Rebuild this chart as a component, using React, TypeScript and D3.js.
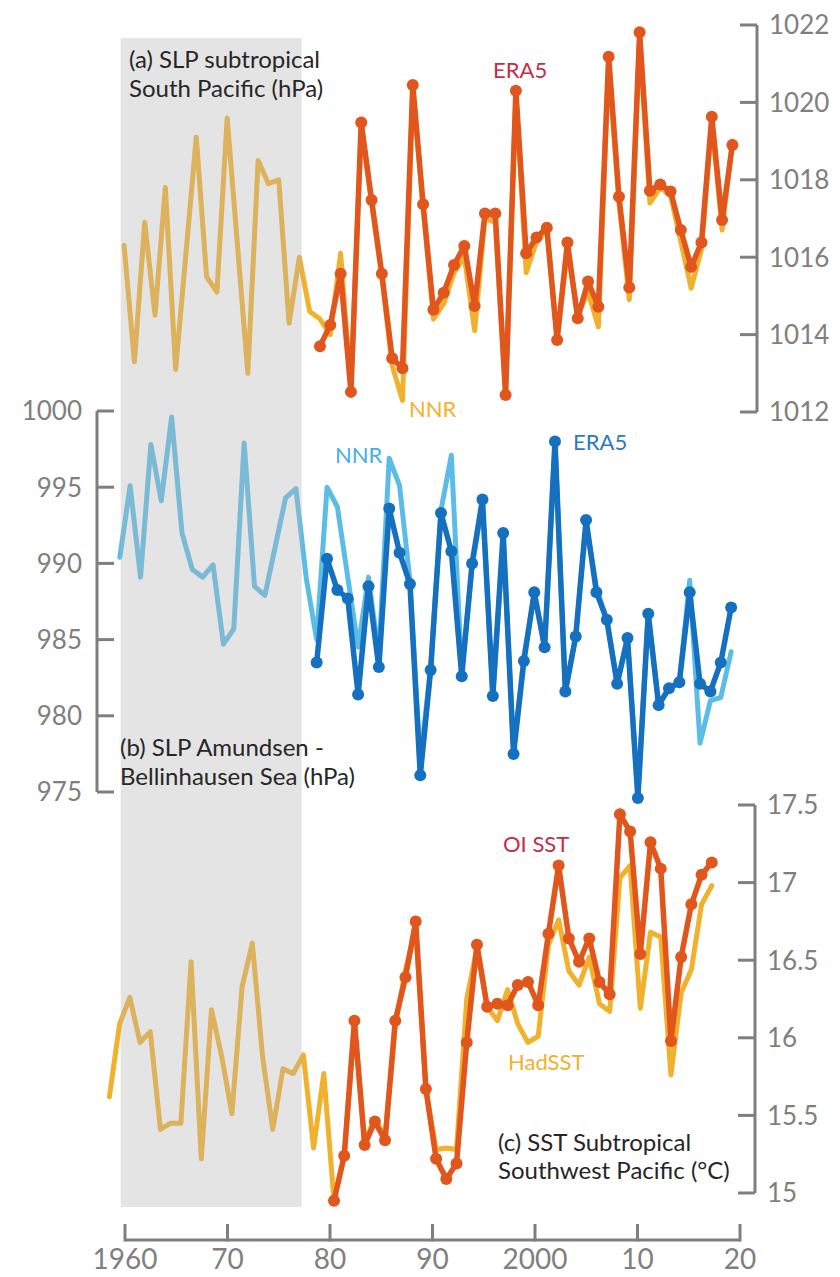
import React from "react";
import * as d3 from "d3";

// ---------- data ----------
// (a) SLP subtropical South Pacific (hPa)
const SLP_SP_NNR_START = 1960;
const SLP_SP_NNR = [
  1016.3, 1013.3, 1016.9, 1014.5, 1017.8, 1013.1, 1016.1, 1019.1, 1015.5, 1015.1,
  1019.6, 1016.3, 1013.0, 1018.5, 1017.9, 1018.0, 1014.3, 1016.0, 1014.6, 1014.4,
  1014.0, 1016.1, 1012.6, 1019.4, 1017.4, 1015.5, 1013.2, 1012.3, 1020.4, 1017.3,
  1014.4, 1014.8, 1015.6, 1016.0, 1014.1, 1017.0, 1016.9, 1012.5, 1020.2, 1015.6,
  1016.4, 1016.7, 1013.9, 1016.2, 1014.5, 1015.1, 1014.2, 1021.0, 1017.4, 1014.9,
  1021.6, 1017.4, 1017.8, 1017.6, 1016.4, 1015.2, 1016.2, 1019.5, 1016.7, 1019.0,
];
const SLP_SP_ERA5_START = 1979;
const SLP_SP_ERA5 = [
  1013.7, 1014.25, 1015.57, 1012.52, 1019.48, 1017.48, 1015.57, 1013.39, 1013.13, 1020.45,
  1017.37, 1014.64, 1015.08, 1015.8, 1016.29, 1014.74, 1017.13, 1017.13, 1012.44, 1020.3,
  1016.1, 1016.51, 1016.76, 1013.86, 1016.38, 1014.42, 1015.37, 1014.72, 1021.18, 1017.56,
  1015.22, 1021.81, 1017.72, 1017.88, 1017.7, 1016.7, 1015.75, 1016.38, 1019.63, 1016.96,
  1018.9,
];

// (b) SLP Amundsen - Bellinhausen Sea (hPa)
const SLP_ABS_NNR_START = 1960;
const SLP_ABS_NNR = [
  990.4, 995.1, 989.1, 997.8, 994.1, 999.6, 992.0, 989.6, 989.1, 989.9,
  984.7, 985.7, 997.9, 988.5, 987.9, 991.1, 994.3, 994.9, 989.0, 985.0,
  995.0, 993.7, 989.1, 984.5, 989.1, 983.9, 996.9, 995.1, 988.9, 977.0,
  983.2, 993.5, 997.1, 982.8, 989.8, 993.9, 981.4, 991.5, 977.8, 983.9,
  988.0, 984.5, 997.9, 981.6, 985.2, 992.6, 988.4, 986.3, 982.1, 985.1,
  974.7, 986.7, 980.8, 981.8, 982.2, 988.9, 978.2, 981.0, 981.2, 984.2,
];
const SLP_ABS_ERA5_START = 1979;
const SLP_ABS_ERA5 = [
  983.5, 990.3, 988.25, 987.7, 981.4, 988.5, 983.2, 993.6, 990.7, 988.65,
  976.1, 983.0, 993.3, 990.8, 982.6, 990.0, 994.2, 981.3, 992.0, 977.5,
  983.6, 988.1, 984.5, 998.0, 981.6, 985.2, 992.85, 988.1, 986.3, 982.1,
  985.1, 974.6, 986.7, 980.7, 981.8, 982.2, 988.1, 982.1, 981.6, 983.5,
  987.1,
];

// (c) SST Subtropical Southwest Pacific (°C)
const SST_HAD_START = 1959;
const SST_HAD = [
  15.62, 16.09, 16.26, 15.97, 16.04, 15.41, 15.45, 15.45, 16.49, 15.22,
  16.18, 15.88, 15.51, 16.33, 16.61, 15.88, 15.41, 15.8, 15.77, 15.89,
  15.29, 15.77, 14.95, 15.24, 16.08, 15.33, 15.48, 15.36, 16.08, 16.44,
  16.7, 15.67, 15.28, 15.29, 15.28, 16.25, 16.58, 16.2, 16.11, 16.31,
  16.09, 15.97, 16.01, 16.6, 16.76, 16.43, 16.34, 16.52, 16.22, 16.17,
  17.03, 17.11, 16.19, 16.68, 16.65, 15.76, 16.29, 16.44, 16.86, 16.98,
];
const SST_OI_START = 1981;
const SST_OI = [
  14.95, 15.24, 16.11, 15.31, 15.46, 15.34, 16.11, 16.39, 16.75, 15.67,
  15.22, 15.09, 15.19, 15.97, 16.6, 16.2, 16.22, 16.21, 16.34, 16.36,
  16.21, 16.67, 17.11, 16.64, 16.49, 16.64, 16.36, 16.28, 17.44, 17.33,
  16.54, 17.26, 17.09, 15.98, 16.52, 16.86, 17.05, 17.13,
];

// axis ticks
const TICKS_A = [1012, 1014, 1016, 1018, 1020, 1022];
const TICKS_B = [975, 980, 985, 990, 995, 1000];
const TICKS_C = [15, 15.5, 16, 16.5, 17, 17.5];
const DECADES = [1960, 1970, 1980, 1990, 2000, 2010, 2020];
const DECADE_LABELS = ["1960", "70", "80", "90", "2000", "10", "20"];
// shaded pre-satellite period
const SHADE_YEARS = [1959.58, 1977.24];

// ---------- styling ----------
const W = 840;
const H = 1277;
const FONT = "Lato, 'Open Sans', sans-serif";
const AXIS_GREY = "#7f7f7f";
const GOLD = "#f2b12c";
const RUST = "#e0561c";
const RED_LABEL = "#c62d46";
const SKY = "#5bbde6";
const BLUE = "#1570c0";
const BLUE_LABEL = "#2f79bd";
const SKY_LABEL = "#45b0e3";
const TEXT_DARK = "#262626";

type Pt = [number, number];
const toPts = (start: number, vals: number[]): Pt[] => vals.map((v, i) => [start + i, v]);

function Series({
  pts, x, y, color, width, markers,
}: {
  pts: Pt[];
  x: d3.ScaleLinear<number, number>;
  y: d3.ScaleLinear<number, number>;
  color: string;
  width: number;
  markers?: number;
}) {
  const line = d3
    .line<Pt>()
    .x((d) => x(d[0]))
    .y((d) => y(d[1]));
  return (
    <g>
      <path
        d={line(pts) || ""}
        fill="none"
        stroke={color}
        strokeWidth={width}
        strokeLinejoin="round"
        strokeLinecap="round"
      />
      {markers
        ? pts.map((d, i) => (
            <circle key={i} cx={x(d[0])} cy={y(d[1])} r={markers} fill={color} />
          ))
        : null}
    </g>
  );
}

function YAxis({
  y, ticks, at, side, fmt,
}: {
  y: d3.ScaleLinear<number, number>;
  ticks: number[];
  at: number;
  side: "left" | "right";
  fmt: (v: number) => string;
}) {
  const [lo, hi] = d3.extent(ticks) as [number, number];
  const dir = side === "right" ? -1 : 1; // tick direction
  const labelX = side === "right" ? at + 12 : at - 15;
  return (
    <g>
      <line x1={at} x2={at} y1={y(lo)} y2={y(hi)} stroke={AXIS_GREY} strokeWidth={3} />
      {ticks.map((t) => (
        <g key={t}>
          <line x1={at} x2={at + dir * 17} y1={y(t)} y2={y(t)} stroke={AXIS_GREY} strokeWidth={3} />
          <text
            x={labelX}
            y={y(t)}
            dy="0.36em"
            textAnchor={side === "right" ? "start" : "end"}
            fontFamily={FONT}
            fontSize={26}
            fill={AXIS_GREY}
          >
            {fmt(t)}
          </text>
        </g>
      ))}
    </g>
  );
}

export default function App() {
  // horizontal scales of the three stacked panels and the shared time axis
  const xA = d3.scaleLinear().domain([1960, 2020]).range([124.1, 742.7]);
  const xB = d3.scaleLinear().domain([1960, 2020]).range([119.8, 741.5]);
  const xC = d3.scaleLinear().domain([1960, 2020]).range([119.6, 732.2]);
  const xAxis = d3.scaleLinear().domain([1960, 2020]).range([125, 740]);

  const yA = d3.scaleLinear().domain([1012, 1022]).range([412, 25]);
  const yB = d3.scaleLinear().domain([975, 1000]).range([792, 411]);
  const yC = d3.scaleLinear().domain([15, 17.5]).range([1193, 805]);

  const axisY = 1240;

  return (
    <svg
      width={W}
      height={H}
      viewBox={`0 0 ${W} ${H}`}
      style={{ position: "absolute", left: 0, top: 0, background: "#fff" }}
    >
      <rect x={0} y={0} width={W} height={H} fill="#fff" />

      {/* (a) */}
      <Series pts={toPts(SLP_SP_NNR_START, SLP_SP_NNR)} x={xA} y={yA} color={GOLD} width={5} />
      <Series pts={toPts(SLP_SP_ERA5_START, SLP_SP_ERA5)} x={xA} y={yA} color={RUST} width={5.5} markers={6} />

      {/* (b) */}
      <Series pts={toPts(SLP_ABS_NNR_START, SLP_ABS_NNR)} x={xB} y={yB} color={SKY} width={5} />
      <Series pts={toPts(SLP_ABS_ERA5_START, SLP_ABS_ERA5)} x={xB} y={yB} color={BLUE} width={5.5} markers={6} />

      {/* (c) */}
      <Series pts={toPts(SST_HAD_START, SST_HAD)} x={xC} y={yC} color={GOLD} width={5} />
      <Series pts={toPts(SST_OI_START, SST_OI)} x={xC} y={yC} color={RUST} width={5.5} markers={6} />

      {/* shaded period, drawn translucent over the curves */}
      <rect
        x={xAxis(SHADE_YEARS[0])}
        y={38}
        width={xAxis(SHADE_YEARS[1]) - xAxis(SHADE_YEARS[0])}
        height={1207 - 38}
        fill="#b4b4b4"
        opacity={0.36}
      />

      {/* y axes */}
      <YAxis y={yA} ticks={TICKS_A} at={757} side="right" fmt={(v) => String(v)} />
      <YAxis y={yB} ticks={TICKS_B} at={97} side="left" fmt={(v) => String(v)} />
      <YAxis y={yC} ticks={TICKS_C} at={755} side="right" fmt={(v) => String(v)} />

      {/* time axis */}
      <g>
        <line x1={xAxis(1960)} x2={xAxis(2020)} y1={axisY} y2={axisY} stroke={AXIS_GREY} strokeWidth={3} />
        {DECADES.map((yr, i) => (
          <g key={yr}>
            <line x1={xAxis(yr)} x2={xAxis(yr)} y1={axisY + 1.5} y2={axisY - 16} stroke={AXIS_GREY} strokeWidth={3} />
            <text
              x={xAxis(yr)}
              y={axisY + 29}
              textAnchor="middle"
              fontFamily={FONT}
              fontSize={28}
              fill={AXIS_GREY}
            >
              {DECADE_LABELS[i]}
            </text>
          </g>
        ))}
      </g>

      {/* panel titles */}
      <g fontFamily={FONT} fontSize={24} fill={TEXT_DARK}>
        <text x={129} y={68}>(a) SLP subtropical</text>
        <text x={129} y={97}>South Pacific (hPa)</text>
        <text x={120} y={756}>(b) SLP Amundsen -</text>
        <text x={120} y={785}>Bellinhausen Sea (hPa)</text>
        <text x={498} y={1151}>(c) SST Subtropical</text>
        <text x={498} y={1179}>Southwest Pacific (°C)</text>
      </g>

      {/* series labels */}
      <g fontFamily={FONT} fontSize={22}>
        <text x={493} y={78} fill={RED_LABEL}>ERA5</text>
        <text x={409} y={417} fill={GOLD}>NNR</text>
        <text x={335} y={463} fill={SKY_LABEL}>NNR</text>
        <text x={573} y={450} fill={BLUE_LABEL}>ERA5</text>
        <text x={503} y={852} fill={RED_LABEL}>OI SST</text>
        <text x={508} y={1070} fill={GOLD}>HadSST</text>
      </g>
    </svg>
  );
}
